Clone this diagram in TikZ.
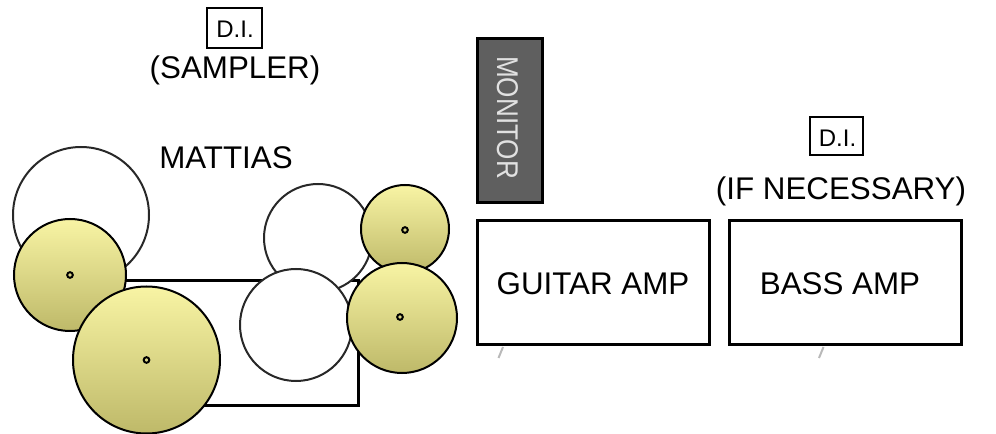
\documentclass[tikz,border=0pt]{standalone}
\usepackage{fontspec}
\setmainfont{Liberation Sans}
\tikzset{every picture/.style={line width=0.75pt}}
\tikzset{
  opendrum/.style={draw={rgb, 255:red, 40; green, 40; blue, 40}, fill=white, line width=1.5pt},
  cymbal/.style={draw=black, line width=1.5pt, top color={rgb, 255:red, 248; green, 244; blue, 164}, bottom color={rgb, 255:red, 190; green, 185; blue, 105}},
  centerdot/.style={draw=black, line width=1.5pt},
  ampbox/.style={draw=black, line width=2.25pt},
  dibox/.style={draw=black, line width=1.9pt},
  biglabel/.style={inner sep=0, anchor=base, font=\fontsize{23.5}{28}\selectfont},
  dilabel/.style={inner sep=0, anchor=base, font=\fontsize{18}{21}\selectfont}
}
\definecolor{monitorgray}{RGB}{95,95,95}
\definecolor{stubgray}{RGB}{185,185,185}

\begin{document}
\begin{tikzpicture}[x=0.75pt,y=0.75pt,yscale=-1,xscale=1]
	\useasboundingbox (0,0) rectangle (996,434);

	%Shape: Rectangle [drum riser]
	\draw [line width=2.25pt] (100,281) rectangle (358,406) ;

	%Shape: Circle [left drums]
	\draw [opendrum] (81,215) circle [radius=68] ;
	\draw [cymbal] (70,275) circle [radius=56] ;
	\draw [centerdot] (70,275) circle [radius=2.8] ;
	\draw [cymbal] (146.5,360) circle [radius=73.5] ;
	\draw [centerdot] (146.5,360) circle [radius=2.8] ;

	%Shape: Circle [right drums]
	\draw [opendrum] (318,238) circle [radius=54] ;
	\draw [cymbal] (405,229) circle [radius=44] ;
	\draw [centerdot] (405,230) circle [radius=2.8] ;
	\draw [opendrum] (296,325) circle [radius=56] ;
	\draw [cymbal] (402,318) circle [radius=55] ;
	\draw [centerdot] (400,317) circle [radius=2.8] ;

	%Shape: Rectangle [monitor]
	\draw [ampbox, fill=monitorgray] (477.5,38.5) rectangle (542.5,202.5) ;
	%Shape: Rectangle [amps]
	\draw [ampbox] (477,220.5) rectangle (709,344.5) ;
	\draw [ampbox] (729.5,220.5) rectangle (961,344.5) ;
	%Shape: Rectangle [D.I. boxes]
	\draw [dibox] (207,8) rectangle (262,48) ;
	\draw [dibox] (810,117) rectangle (863,155) ;

	%Straight Lines [stubs]
	\draw [stubgray, line width=1.5pt] (503,347) -- (498.5,358) ;
	\draw [stubgray, line width=1.5pt] (823.5,347) -- (819,358) ;

	% Text Node
	\node [dilabel] (disampler) at (235,37.3) {D.I.};
	% Text Node
	\node [biglabel] (sampler) at (235,79) {(SAMPLER)};
	% Text Node
	\node [biglabel] (mattias) at (226,169) {MATTIAS};
	% Text Node
	\node [inner sep=0, rotate=-90, text={rgb, 255:red, 225; green, 225; blue, 225}, font=\fontsize{22.5}{26}\selectfont] (monitor) at (507.5,117.5) {\scalebox{0.87}[1]{MONITOR}};
	% Text Node
	\node [biglabel] (guitaramp) at (593,295) {GUITAR AMP};
	% Text Node
	\node [biglabel] (bassamp) at (840,295) {BASS AMP};
	% Text Node
	\node [dilabel] (dibass) at (837.5,146.7) {D.I.};
	% Text Node
	\node [biglabel] (ifnecessary) at (841,200) {(IF NECESSARY)};

\end{tikzpicture}
\end{document}
